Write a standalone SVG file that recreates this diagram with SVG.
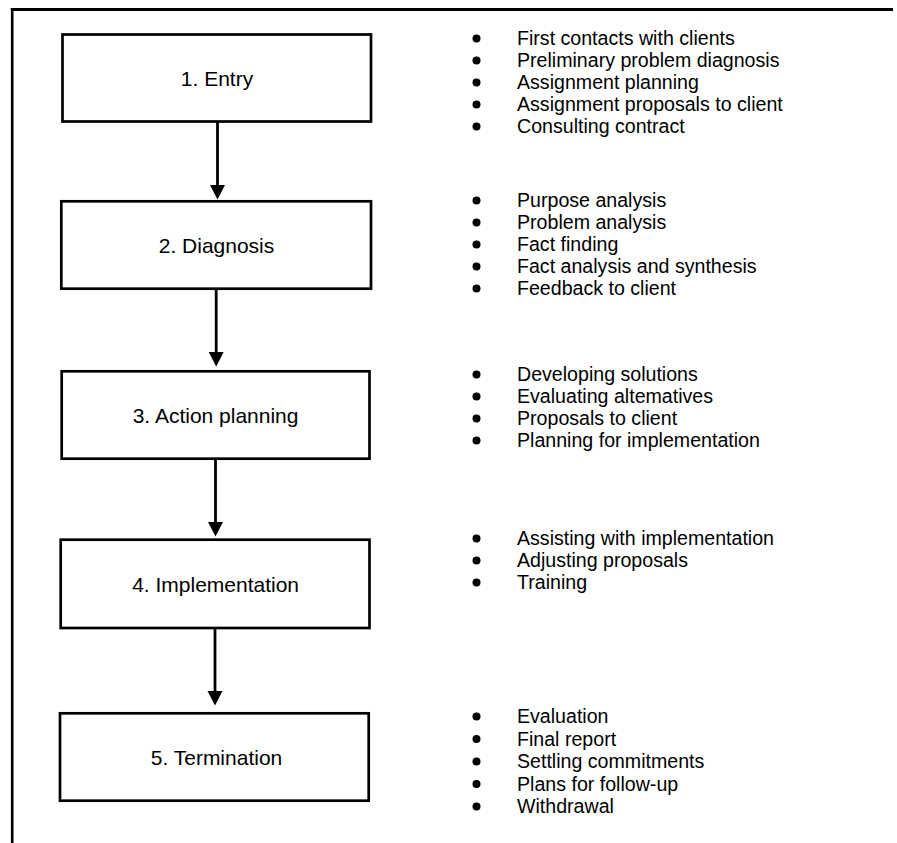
<svg xmlns="http://www.w3.org/2000/svg" width="897" height="843" viewBox="0 0 897 843">
<style>
.box{fill:#fff;stroke:#000;stroke-width:2.7}
.lbl{font-family:"Liberation Sans",Arial,sans-serif;font-size:21px;fill:#000;text-anchor:middle}
.it{font-family:"Liberation Sans",Arial,sans-serif;font-size:19.6px;fill:#000}
.bul{fill:#000}
.con{stroke:#000;stroke-width:2.8;fill:none;marker-end:url(#ah)}
.frame{stroke:#000;fill:none}
</style>
<defs>
<marker id="ah" markerUnits="userSpaceOnUse" markerWidth="15" markerHeight="16" viewBox="0 0 15 16" refX="0.5" refY="8" orient="auto">
<path d="M0,0.5 L14.5,8 L0,15.5 z" fill="#000"/>
</marker>
</defs>
<rect width="897" height="843" fill="#fff"/>
<g id="frame">
<line class="frame" x1="10.8" y1="9.5" x2="893" y2="9.5" stroke-width="3.2"/>
<line class="frame" x1="12.2" y1="8" x2="12.2" y2="843" stroke-width="2.6"/>
</g>
<g id="connectors">
<line class="con" x1="217.5" y1="122" x2="217.5" y2="185.5"/>
<line class="con" x1="216.2" y1="289" x2="216.2" y2="352.5"/>
<line class="con" x1="215.5" y1="459" x2="215.5" y2="522.5"/>
<line class="con" x1="215" y1="628" x2="215" y2="691.5"/>
</g>
<g id="node1">
<rect class="box" x="62.5" y="34.5" width="308.5" height="87"/>
<text class="lbl" x="217" y="85.5">1. Entry</text>
</g>
<g id="node2">
<rect class="box" x="61.3" y="201.3" width="309.7" height="87.4"/>
<text class="lbl" x="216.5" y="252.5">2. Diagnosis</text>
</g>
<g id="node3">
<rect class="box" x="61.7" y="371.3" width="307.8" height="87.4"/>
<text class="lbl" x="215.6" y="422.5">3. Action planning</text>
</g>
<g id="node4">
<rect class="box" x="60.7" y="539.7" width="308.8" height="88.3"/>
<text class="lbl" x="215.6" y="591.5">4. Implementation</text>
</g>
<g id="node5">
<rect class="box" x="60" y="713.3" width="308.7" height="87.4"/>
<text class="lbl" x="216.5" y="764.5">5. Termination</text>
</g>
<g id="list1">
<circle class="bul" cx="476.5" cy="38.5" r="4"/><text class="it" x="517" y="45">First contacts with clients</text>
<circle class="bul" cx="476.5" cy="60.5" r="4"/><text class="it" x="517" y="67">Preliminary problem diagnosis</text>
<circle class="bul" cx="476.5" cy="82.5" r="4"/><text class="it" x="517" y="89">Assignment planning</text>
<circle class="bul" cx="476.5" cy="104.5" r="4"/><text class="it" x="517" y="111">Assignment proposals to client</text>
<circle class="bul" cx="476.5" cy="126.5" r="4"/><text class="it" x="517" y="133">Consulting contract</text>
</g>
<g id="list2">
<circle class="bul" cx="476.5" cy="200.5" r="4"/><text class="it" x="517" y="207">Purpose analysis</text>
<circle class="bul" cx="476.5" cy="222.5" r="4"/><text class="it" x="517" y="229">Problem analysis</text>
<circle class="bul" cx="476.5" cy="244.5" r="4"/><text class="it" x="517" y="251">Fact finding</text>
<circle class="bul" cx="476.5" cy="266.5" r="4"/><text class="it" x="517" y="273">Fact analysis and synthesis</text>
<circle class="bul" cx="476.5" cy="288.5" r="4"/><text class="it" x="517" y="295">Feedback to client</text>
</g>
<g id="list3">
<circle class="bul" cx="476.5" cy="374.5" r="4"/><text class="it" x="517" y="381">Developing solutions</text>
<circle class="bul" cx="476.5" cy="396.5" r="4"/><text class="it" x="517" y="403">Evaluating altematives</text>
<circle class="bul" cx="476.5" cy="418.5" r="4"/><text class="it" x="517" y="425">Proposals to client</text>
<circle class="bul" cx="476.5" cy="440.5" r="4"/><text class="it" x="517" y="447">Planning for implementation</text>
</g>
<g id="list4">
<circle class="bul" cx="476.5" cy="538.5" r="4"/><text class="it" x="517" y="545">Assisting with implementation</text>
<circle class="bul" cx="476.5" cy="560.5" r="4"/><text class="it" x="517" y="567">Adjusting proposals</text>
<circle class="bul" cx="476.5" cy="582.5" r="4"/><text class="it" x="517" y="589">Training</text>
</g>
<g id="list5">
<circle class="bul" cx="476.5" cy="716.5" r="4"/><text class="it" x="517" y="723">Evaluation</text>
<circle class="bul" cx="476.5" cy="739" r="4"/><text class="it" x="517" y="745.5">Final report</text>
<circle class="bul" cx="476.5" cy="761.5" r="4"/><text class="it" x="517" y="768">Settling commitments</text>
<circle class="bul" cx="476.5" cy="784" r="4"/><text class="it" x="517" y="790.5">Plans for follow-up</text>
<circle class="bul" cx="476.5" cy="806.5" r="4"/><text class="it" x="517" y="813">Withdrawal</text>
</g>
</svg>
